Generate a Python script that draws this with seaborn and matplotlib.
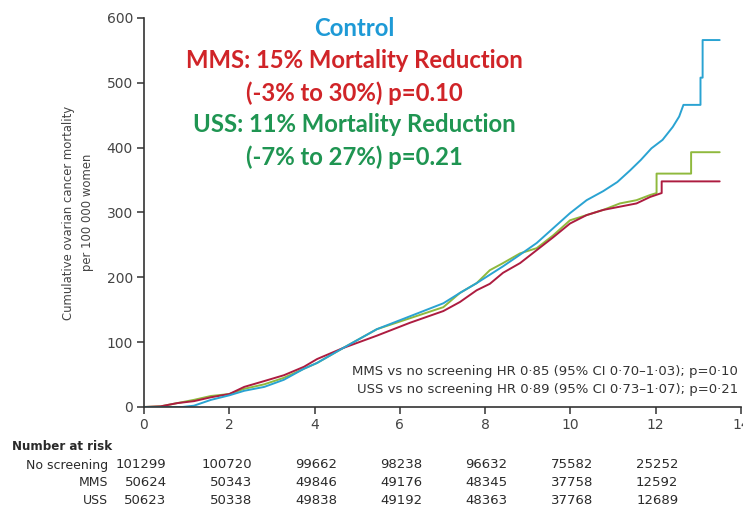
import matplotlib
matplotlib.use("Agg")
import matplotlib.pyplot as plt
import matplotlib.transforms as mtransforms
import seaborn as sns
import pandas as pd

# ---------------- data ----------------
control_t = [0, 0.9, 1.17, 1.57, 2.0, 2.35, 2.82, 3.28, 3.75, 4.06, 4.67, 5.46, 6.24,
             7.02, 7.41, 7.8, 8.11, 8.42, 8.82, 9.21, 9.6, 9.99, 10.38, 10.77, 11.1,
             11.4, 11.65, 11.9, 12.16, 12.4, 12.55, 12.65, 13.05, 13.05, 13.1, 13.1, 13.5]
control_v = [0, 0, 2, 11, 18, 25, 31, 42, 59, 68, 91, 120, 140,
             160, 176, 191, 204, 217, 235, 253, 276, 299, 319, 333, 347,
             365, 381, 399, 412, 432, 448, 466, 466, 508, 508, 566, 566]

mms_t = [0, 0.39, 0.78, 1.17, 1.57, 2.0, 2.35, 2.82, 3.28, 3.75, 4.06, 4.67, 5.46,
         6.24, 7.02, 7.41, 7.8, 8.11, 8.42, 8.82, 9.21, 9.6, 9.99, 10.38, 10.77,
         11.16, 11.55, 11.87, 12.14, 12.14, 13.5]
mms_v = [0, 1, 6, 9, 15, 20, 31, 40, 49, 62, 74, 91, 110,
         130, 148, 162, 180, 190, 207, 222, 242, 262, 283, 296, 304,
         309, 314, 324, 330, 348, 348]

uss_t = [0, 0.39, 0.78, 1.17, 1.57, 2.0, 2.35, 2.82, 3.28, 3.75, 4.06, 4.67, 5.46,
         6.24, 7.02, 7.41, 7.8, 8.11, 8.42, 8.82, 9.21, 9.6, 9.99, 10.38, 10.77,
         11.16, 11.55, 11.87, 12.02, 12.02, 12.83, 12.83, 13.5]
uss_v = [0, 1, 6, 11, 17, 20, 28, 35, 45, 59, 68, 91, 120,
         137, 154, 176, 191, 211, 222, 237, 245, 265, 288, 296, 304,
         314, 319, 327, 330, 360, 360, 393, 393]

risk_times = [0, 2, 4, 6, 8, 10, 12]
risk_groups = ["No screening", "MMS", "USS"]
risk_no_screening = ["101299", "100720", "99662", "98238", "96632", "75582", "25252"]
risk_mms = ["50624", "50343", "49846", "49176", "48345", "37758", "12592"]
risk_uss = ["50623", "50338", "49838", "49192", "48363", "37768", "12689"]

x_ticks = [0, 2, 4, 6, 8, 10, 12, 14]
y_ticks = [0, 100, 200, 300, 400, 500, 600]

# ---------------- style ----------------
sns.set_style("ticks")
plt.rcParams["font.family"] = ["DejaVu Sans"]
bold_font = ["Lato", "DejaVu Sans"]

BLUE = "#2aa3d2"
RED = "#ad1c40"
GREEN = "#8fb93d"
TXT = "#2a2a2a"

fig = plt.figure(figsize=(7.43, 5.08), dpi=100)
ax = fig.add_axes([144 / 743, 1 - 407 / 508, (741 - 144) / 743, (407 - 18) / 508])

df = pd.concat([
    pd.DataFrame({"t": control_t, "v": control_v, "g": "Control"}),
    pd.DataFrame({"t": uss_t, "v": uss_v, "g": "USS"}),
    pd.DataFrame({"t": mms_t, "v": mms_v, "g": "MMS"}),
])
for g, c in [("USS", GREEN), ("MMS", RED), ("Control", BLUE)]:
    sub = df[df["g"] == g]
    sns.lineplot(data=sub, x="t", y="v", ax=ax, color=c, lw=1.4,
                 estimator=None, sort=False, legend=False)

ax.set_xlim(0, 14)
ax.set_ylim(0, 600)
ax.set_xticks(x_ticks)
ax.set_yticks(y_ticks)
ax.set_xlabel("")
ax.set_ylabel("Cumulative ovarian cancer mortality\nper 100 000 women",
              fontsize=8.4, color="#444444", labelpad=9, linespacing=1.6)
for s in ["top", "right"]:
    ax.spines[s].set_visible(False)
for s in ["left", "bottom"]:
    ax.spines[s].set_color("#333333")
    ax.spines[s].set_linewidth(1.2)
ax.tick_params(axis="both", direction="out", length=5, width=1.1, color="#333333",
               labelsize=10, labelcolor="#444444", pad=3)

# headline annotation
cx = 354 / 743
heads = [("Control", "#1e9ad6", 28),
         ("MMS: 15% Mortality Reduction", "#d02428", 60),
         ("(-3% to 30%) p=0.10", "#d02428", 93),
         ("USS: 11% Mortality Reduction", "#1f9552", 125),
         ("(-7% to 27%) p=0.21", "#1f9552", 157)]
for txt, col, yy in heads:
    fig.text(cx, 1 - yy / 508, txt, ha="center", va="center", fontsize=17.2,
             fontweight="bold", color=col, family=bold_font)

# HR annotation
fig.text(738 / 743, 1 - 371 / 508,
         "MMS vs no screening HR 0\u00b785 (95% CI 0\u00b770\u20131\u00b703); p=0\u00b710",
         ha="right", va="center", fontsize=9.5, color="#333333")
fig.text(738 / 743, 1 - 390 / 508,
         "USS vs no screening HR 0\u00b789 (95% CI 0\u00b773\u20131\u00b707); p=0\u00b721",
         ha="right", va="center", fontsize=9.5, color="#333333")

# number at risk table
fig.text(12 / 743, 1 - 447 / 508, "Number at risk", ha="left", va="center",
         fontsize=8.6, fontweight="bold", color=TXT)
trans = mtransforms.blended_transform_factory(ax.transData, fig.transFigure)
rows_y = [465, 483, 501]
for label, vals, yy in zip(risk_groups, [risk_no_screening, risk_mms, risk_uss], rows_y):
    fig.text(108 / 743, 1 - yy / 508, label, ha="right", va="center",
             fontsize=9, color=TXT)
    for t, v in zip(risk_times, vals):
        ax.text(t + 0.53, 1 - yy / 508, v, transform=trans, ha="right", va="center",
                fontsize=9.5, color=TXT, clip_on=False)

fig.savefig("out.png", dpi=100)
